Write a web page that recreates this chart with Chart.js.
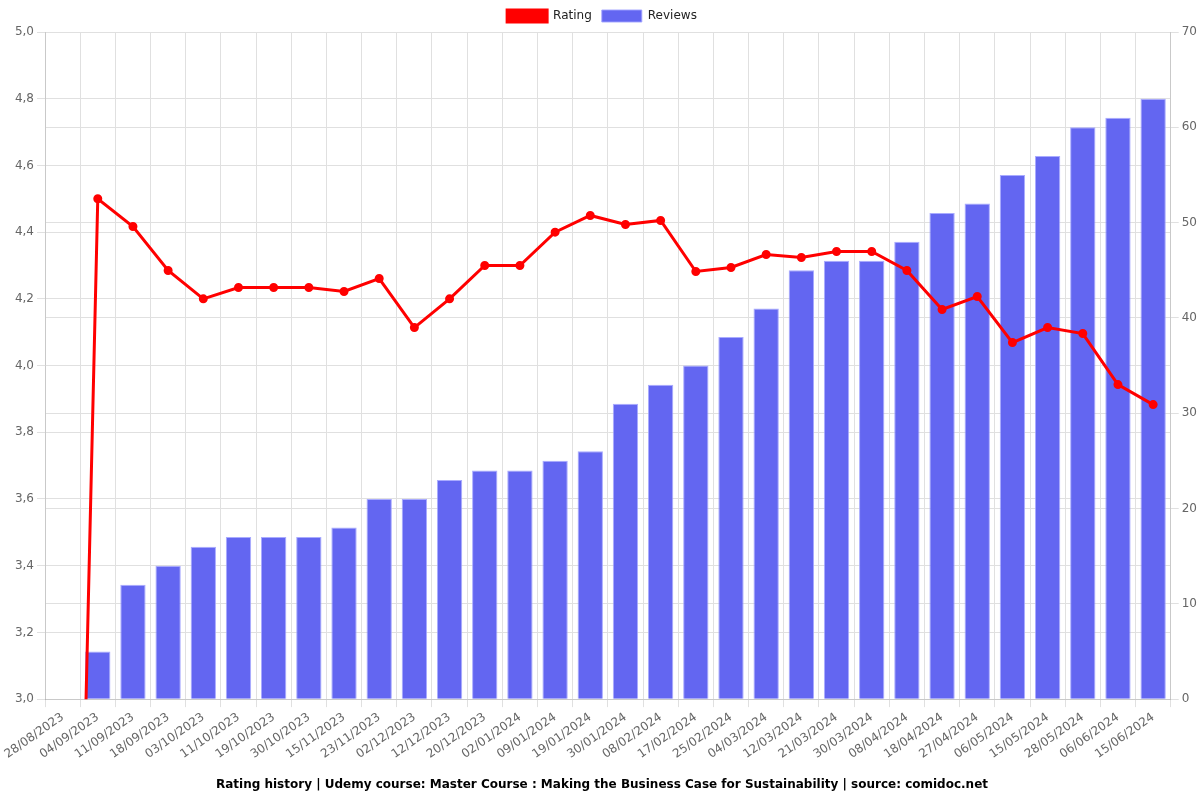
<!DOCTYPE html>
<html>
<head>
<meta charset="utf-8">
<script src="https://cdn.jsdelivr.net/npm/chart.js@4/dist/chart.umd.min.js"></script>
<style>
  html, body { margin: 0; padding: 0; background: #fff; }
  #wrap { width: 1200px; height: 800px; }
</style>
</head>
<body>
<div id="wrap"><canvas id="chart"></canvas></div>
<script>
const dates = ['28/08/2023', '04/09/2023', '11/09/2023', '18/09/2023', '03/10/2023', '11/10/2023',
  '19/10/2023', '30/10/2023', '15/11/2023', '23/11/2023', '02/12/2023', '12/12/2023',
  '20/12/2023', '02/01/2024', '09/01/2024', '19/01/2024', '30/01/2024', '08/02/2024',
  '17/02/2024', '25/02/2024', '04/03/2024', '12/03/2024', '21/03/2024', '30/03/2024',
  '08/04/2024', '18/04/2024', '27/04/2024', '06/05/2024', '15/05/2024', '28/05/2024',
  '06/06/2024', '15/06/2024'];

const rating = [0, 4.5, 4.417, 4.285, 4.2, 4.234, 4.234, 4.234, 4.222, 4.261, 4.114, 4.2,
  4.3, 4.3, 4.4, 4.45, 4.423, 4.435, 4.282, 4.294, 4.333, 4.324, 4.342, 4.342,
  4.285, 4.168, 4.207, 4.069, 4.114, 4.096, 3.943, 3.883];

const reviews = [0, 5, 12, 14, 16, 17, 17, 17, 18, 21, 21, 23, 24, 24, 25, 26, 31, 33, 35, 38,
  41, 45, 46, 46, 48, 51, 52, 55, 57, 60, 61, 63];

Chart.defaults.font.family = '"DejaVu Sans", sans-serif';
Chart.defaults.color = '#666';

new Chart(document.getElementById('chart'), {
  type: 'bar',
  data: {
    labels: dates,
    datasets: [{
      type: 'line',
      label: 'Rating',
      data: rating,
      yAxisID: 'y',
      borderColor: '#ff0000',
      backgroundColor: '#ff0000',
      borderWidth: 3,
      pointRadius: 3,
      pointBackgroundColor: '#ff0000',
      tension: 0,
      order: 0
    }, {
      label: 'Reviews',
      data: reviews,
      yAxisID: 'y1',
      backgroundColor: '#6366f1',
      borderColor: 'rgba(160,162,255,0.9)',
      borderWidth: 1,
      order: 1
    }]
  },
  options: {
    responsive: true,
    maintainAspectRatio: false,
    animation: false,
    layout: { padding: { left: 4, right: 0, top: 0, bottom: 4 } },
    plugins: {
      legend: {
        position: 'top',
        labels: { color: '#222', font: { size: 12 }, boxWidth: 40, boxHeight: 12 }
      },
      title: {
        display: true,
        position: 'bottom',
        text: 'Rating history | Udemy course: Master Course : Making the Business Case for Sustainability | source: comidoc.net',
        color: '#000',
        font: { size: 12, weight: 'bold' },
        padding: { top: 13, bottom: 4 }
      }
    },
    scales: {
      x: {
        grid: { color: '#e0e0e0', offset: true },
        ticks: { maxRotation: 35, minRotation: 35, autoSkip: false, font: { size: 12 } }
      },
      y: {
        position: 'left',
        min: 3,
        max: 5,
        afterFit: scale => { scale.width = 41; },
        ticks: {
          stepSize: 0.2,
          font: { size: 12 },
          callback: v => v.toFixed(1).replace('.', ',')
        },
        grid: { color: '#e0e0e0' }
      },
      y1: {
        position: 'right',
        min: 0,
        max: 70,
        ticks: { stepSize: 10, font: { size: 12 } },
        grid: { color: '#e0e0e0' }
      }
    }
  }
});
</script>
</body>
</html>
